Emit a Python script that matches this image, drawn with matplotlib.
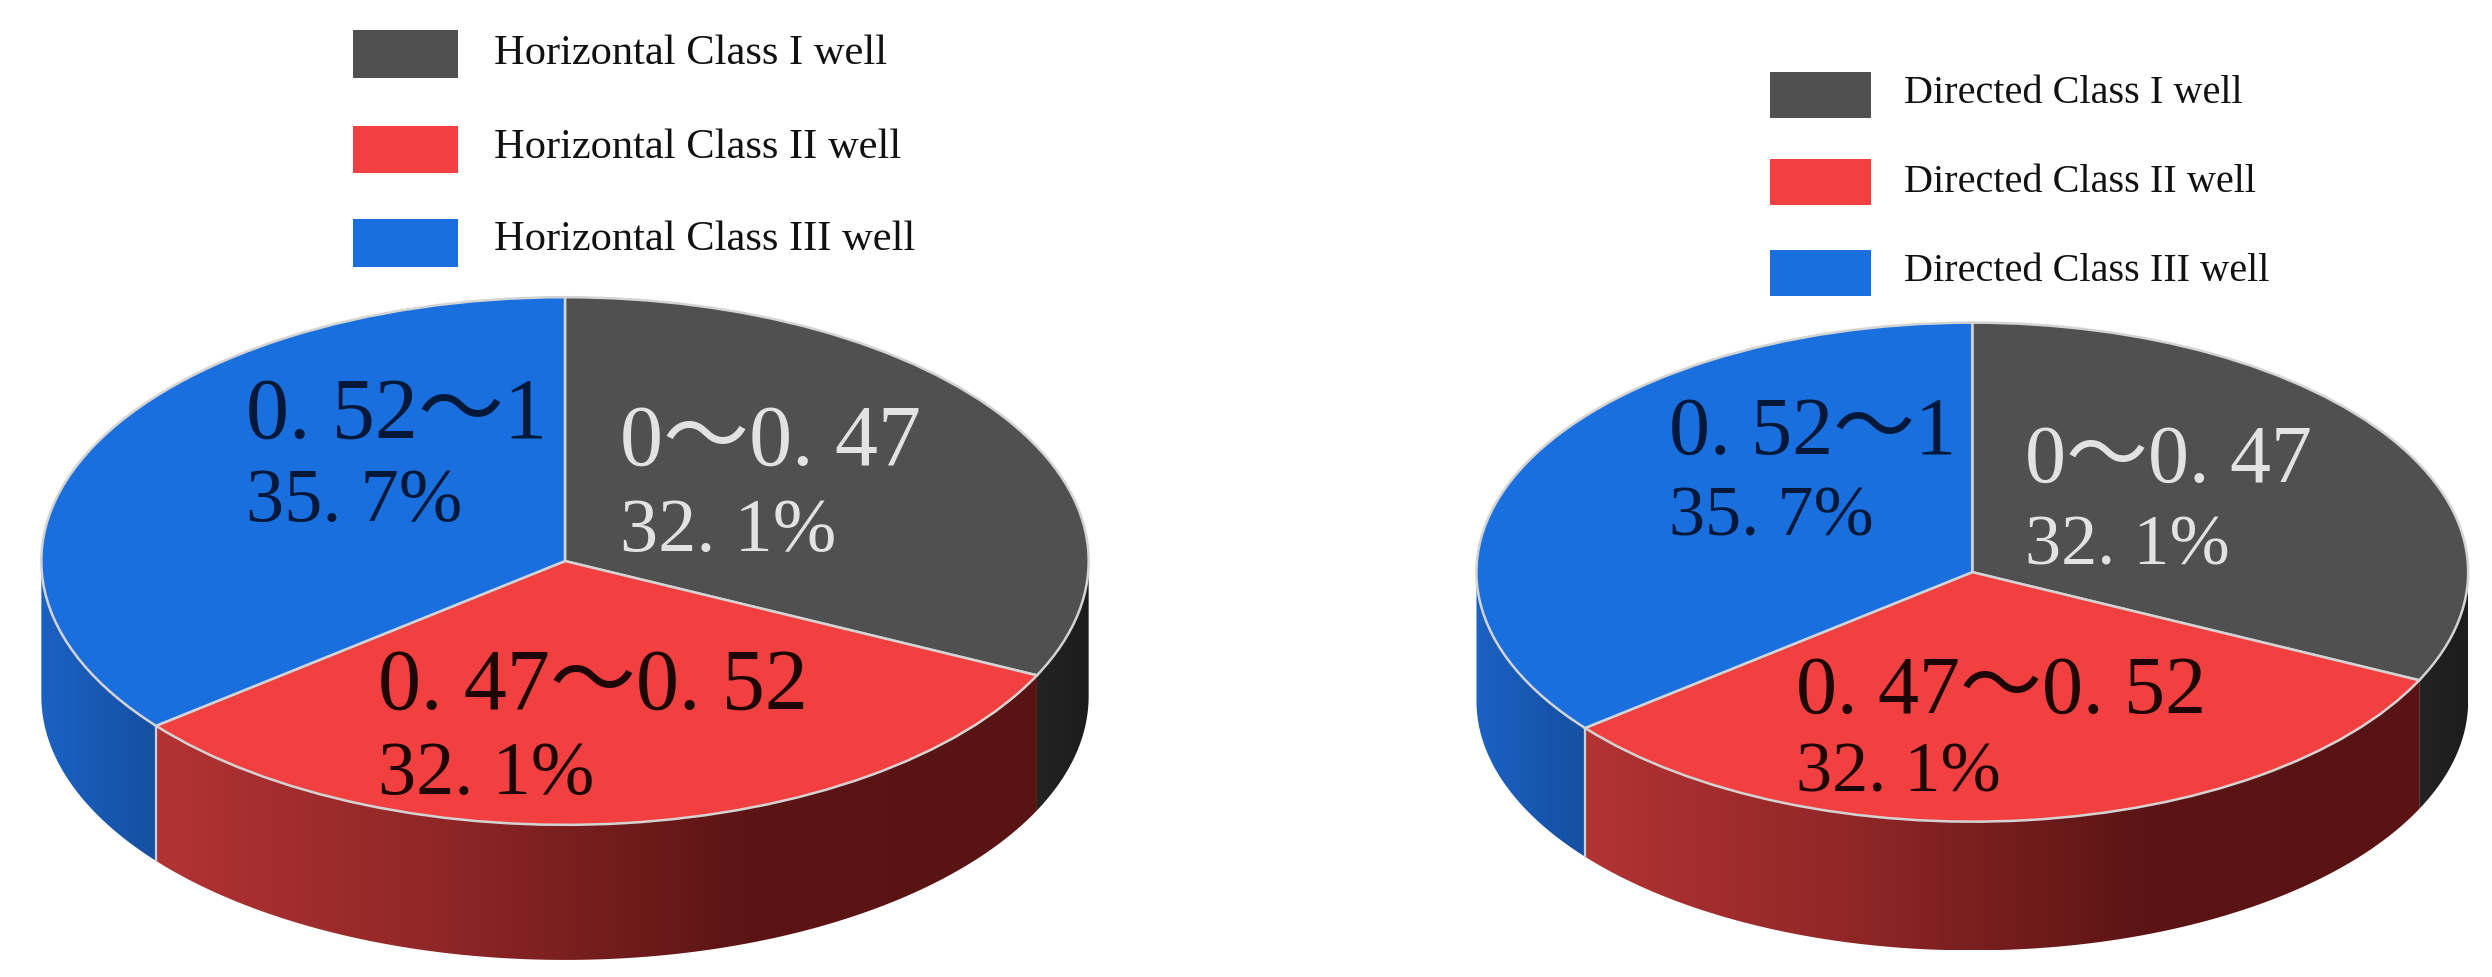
import matplotlib
matplotlib.use("Agg")
import matplotlib.pyplot as plt
import numpy as np
from matplotlib.colors import LinearSegmentedColormap
from matplotlib.patches import Polygon, Rectangle

W, H = 2492, 977
S = W / 1568  # I measured everything on the 1568 wide view

shares = [32.1, 32.1, 35.7]
top_colors = ["#505050", "#f24040", "#1a6fdf"]
side_colors = [["#232323", "#1c1c1c"],
               ["#b33333", "#8e2626", "#5c1414", "#5a1313"],
               ["#1b62c4", "#154fa0"]]

ranges = ["0～0. 47", "0. 47～0. 52", "0. 52～1"]
share_labels = ["32. 1%", "32. 1%", "35. 7%"]
text_colors = ["#e2e2e2", "#1e0606", "#04183a"]

left_legend = ["Horizontal Class I well", "Horizontal Class II well", "Horizontal Class III well"]
right_legend = ["Directed Class I well", "Directed Class II well", "Directed Class III well"]


def fx(x):
    return x * S / W


def fy(y):
    return 1 - y * S / H


def draw_pie(cx, cy, rx, ry, depth):
    m = 0.02
    d = depth / ry
    x0, x1 = cx - rx * (1 + m), cx + rx * (1 + m)
    y0, y1 = cy - ry * (1 + m), cy + ry * (1 + m) + depth
    ax = plt.axes([fx(x0), fy(y1), fx(x1) - fx(x0), fy(y0) - fy(y1)])

    # walls first, one for each slice that reaches the front half
    edges = 90 - np.cumsum([0] + shares) / sum(shares) * 360
    for i in range(len(shares)):
        a = np.radians(np.linspace(edges[i], edges[i + 1], 200))
        a = a[np.sin(a) <= 0]
        if len(a) == 0:
            continue
        top_x, top_y = np.cos(a), np.sin(a)
        pts = np.vstack([np.c_[top_x, top_y], np.c_[top_x, top_y - d][::-1]])
        poly = Polygon(pts, closed=True, fc="none", ec="none", transform=ax.transData)
        ax.add_patch(poly)
        cmap = LinearSegmentedColormap.from_list("side", side_colors[i])
        im = ax.imshow(np.linspace(0, 1, 256).reshape(1, -1), cmap=cmap, aspect="auto",
                       extent=[top_x.min(), top_x.max(), -1 - d, 0.2], zorder=1)
        im.set_clip_path(poly)
        # light seam where the blue and red walls meet
        if i == 1:
            seam_y = -np.sqrt(1 - top_x.min() ** 2)
            ax.plot([top_x.min()] * 2, [seam_y, seam_y - d], color="#c9d3e0", lw=1.6, zorder=2)

    ax.pie(shares, colors=top_colors, startangle=90, counterclock=False, radius=1,
           wedgeprops=dict(edgecolor="#d4d4d4", linewidth=1.8, zorder=3))
    ax.set_aspect("auto")
    ax.set_xlim(-1 - m, 1 + m)
    ax.set_ylim(-1 - m - d, 1 + m)
    ax.axis("off")


def draw_legend(labels, box_x, box_w, box_h, box_tops, text_x, text_y, size):
    for i in range(3):
        rect = Rectangle((fx(box_x), fy(box_tops[i] + box_h)), fx(box_w), box_h * S / H,
                         transform=fig.transFigure, fc=top_colors[i], ec="none")
        fig.add_artist(rect)
        fig.text(fx(text_x), fy(text_y[i]), labels[i], family="Liberation Serif", fontsize=size,
                 color="#111111", ha="left", va="center")


def draw_labels(pos, size, size2):
    for i in range(3):
        (x, y1, y2) = pos[i]
        fig.text(fx(x), fy(y1), ranges[i], family=["Liberation Serif", "Noto Sans CJK SC"],
                 fontsize=size, color=text_colors[i], ha="left", va="center")
        fig.text(fx(x), fy(y2), share_labels[i], family=["Liberation Serif", "Noto Sans CJK SC"],
                 fontsize=size2, color=text_colors[i], ha="left", va="center")


fig = plt.figure(figsize=(W / 100, H / 100), dpi=100, facecolor="white")

draw_pie(355.5, 353, 329.5, 166, 85)
draw_pie(1241, 360, 312, 157, 81)

draw_legend(left_legend, 222, 66, 30, [19, 79, 138], 311, [34, 93, 151], 30.6)
draw_legend(right_legend, 1114, 63, 29, [45, 100, 157], 1198, [59, 115, 171], 29)

draw_labels([(390, 279, 335), (238, 433, 488), (155, 262, 316)], 62, 55)
draw_labels([(1274, 291, 344), (1130, 436, 487), (1050, 273, 326)], 59, 52)

fig.savefig("out.png", dpi=100)
